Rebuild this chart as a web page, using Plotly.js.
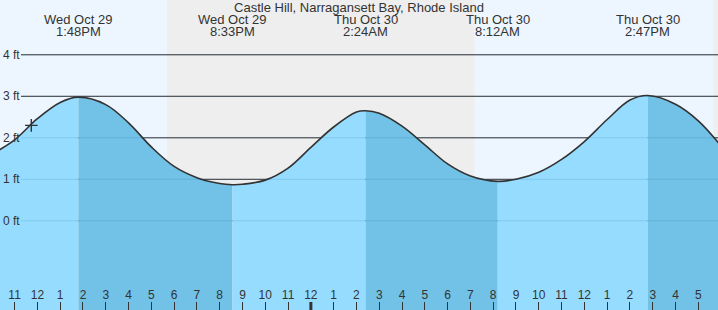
<!DOCTYPE html>
<html>
<head>
<meta charset="utf-8">
<script src="https://cdn.plot.ly/plotly-3.0.1.min.js"></script>
<style>html,body{margin:0;padding:0;background:#fff;}#chart{width:718px;height:310px;}</style>
</head>
<body>
<div id="chart"></div>
<script>
// ---- data ----
const chartTitle = 'Castle Hill, Narragansett Bay, Rhode Island';
const tideTimes = [
  '2025-10-29 10:20','2025-10-29 11:00','2025-10-29 12:00','2025-10-29 13:00','2025-10-29 13:48',
  '2025-10-29 15:00','2025-10-29 16:00','2025-10-29 17:00','2025-10-29 18:00','2025-10-29 19:00',
  '2025-10-29 20:00','2025-10-29 20:33','2025-10-29 21:00','2025-10-29 22:00','2025-10-29 23:00',
  '2025-10-30 00:00','2025-10-30 01:00','2025-10-30 02:00','2025-10-30 02:24','2025-10-30 03:00',
  '2025-10-30 04:00','2025-10-30 05:00','2025-10-30 06:00','2025-10-30 07:00','2025-10-30 08:12',
  '2025-10-30 09:00','2025-10-30 10:00','2025-10-30 11:00','2025-10-30 12:00','2025-10-30 13:00',
  '2025-10-30 14:00','2025-10-30 14:47','2025-10-30 16:00','2025-10-30 17:00','2025-10-30 17:53'
];
const tideFeet = [
  1.71, 1.95, 2.46, 2.85, 2.98,
  2.80, 2.36, 1.78, 1.31, 1.04,
  0.90, 0.87, 0.88, 0.98, 1.27,
  1.77, 2.26, 2.62, 2.65, 2.59,
  2.28, 1.83, 1.37, 1.08, 0.95,
  1.00, 1.17, 1.48, 1.91, 2.44,
  2.91, 3.02, 2.81, 2.41, 1.88
];
const extremeTimes = ['2025-10-29 13:48','2025-10-29 20:33','2025-10-30 02:24','2025-10-30 08:12','2025-10-30 14:47'];
const extremeDates = ['Wed Oct 29','Wed Oct 29','Thu Oct 30','Thu Oct 30','Thu Oct 30'];
const extremeClock = ['1:48PM','8:33PM','2:24AM','8:12AM','2:47PM'];
const nightStarts = ['2025-10-29 17:41','2025-10-30 17:40'];
const nightEnds   = ['2025-10-30 07:11','2025-10-30 19:00'];
const feetTicks = [0, 1, 2, 3, 4];
const feetLabels = ['0 ft', '1 ft', '2 ft', '3 ft', '4 ft'];
const nowTime = ['2025-10-29 11:44'];
const nowFeet = [2.30];
const midnight = '2025-10-30 00:00';

// ---- styling ----
const FONT = '"Liberation Sans", Arial, sans-serif';
const INK = '#333333';
const DAY = '#edf6ff';
const NIGHT = '#eeeeee';
const RISING = '#96dcff';
const FALLING = '#72c1e6';
const Y_RANGE = [-2.149, 5.32];
const X_RANGE = ['2025-10-29 10:21:34', '2025-10-30 17:51:50'];
const BASE = -3;

const traces = [];
// split the curve at each high/low into filled segments
const bounds = [0];
extremeTimes.forEach(t => bounds.push(tideTimes.indexOf(t)));
bounds.push(tideTimes.length - 1);
for (let k = 0; k < bounds.length - 1; k++) {
  const a = bounds[k], b = bounds[k + 1];
  const xs = tideTimes.slice(a, b + 1), ys = tideFeet.slice(a, b + 1);
  const falling = ys[ys.length - 1] < ys[0];
  traces.push({x: [xs[0], xs[xs.length - 1]], y: [BASE, BASE], mode: 'lines',
    line: {width: 0, color: 'rgba(0,0,0,0)'}, hoverinfo: 'skip', showlegend: false});
  traces.push({x: xs, y: ys, mode: 'lines', fill: 'tonexty',
    fillcolor: falling ? FALLING : RISING,
    line: {width: 0, shape: 'spline', smoothing: 1, color: 'rgba(0,0,0,0)'},
    hoverinfo: 'skip', showlegend: false});
}
// outline
traces.push({x: tideTimes, y: tideFeet, mode: 'lines',
  line: {color: INK, width: 1.6, shape: 'spline', smoothing: 1}, showlegend: false, hoverinfo: 'skip'});
// current time marker
traces.push({x: nowTime, y: nowFeet, mode: 'markers',
  marker: {symbol: 'cross-thin', size: 9, line: {width: 1.4, color: INK}, color: INK},
  showlegend: false, hoverinfo: 'skip'});

const shapes = [];
nightStarts.forEach((s, i) => shapes.push({type: 'rect', xref: 'x', yref: 'paper',
  x0: s, x1: nightEnds[i], y0: 0, y1: 1, fillcolor: NIGHT, line: {width: 0}, layer: 'below'}));
feetTicks.forEach(v => shapes.push({type: 'line', xref: 'paper', yref: 'y',
  x0: 21 / 718, x1: 1, y0: v, y1: v, line: {color: INK, width: 1}, layer: 'below'}));
feetTicks.forEach(v => shapes.push({type: 'line', xref: 'paper', yref: 'y',
  x0: 21 / 718, x1: 1, y0: v, y1: v, line: {color: 'rgba(0,70,120,0.13)', width: 1}, layer: 'above'}));
shapes.push({type: 'line', xref: 'x', yref: 'paper', x0: midnight, x1: midnight,
  y0: 0, y1: 8 / 310, line: {color: INK, width: 3}, layer: 'above'});

const annotations = [];
extremeTimes.forEach((t, i) => {
  annotations.push({x: t, xref: 'x', yref: 'paper', y: 1 - 19.5 / 310, yanchor: 'middle',
    text: extremeDates[i], showarrow: false, font: {family: FONT, size: 13, color: INK}});
  annotations.push({x: t, xref: 'x', yref: 'paper', y: 1 - 31.5 / 310, yanchor: 'middle',
    text: extremeClock[i], showarrow: false, font: {family: FONT, size: 13, color: INK}});
});
feetTicks.forEach((v, i) => annotations.push({x: 2 / 718, xref: 'paper', xanchor: 'left',
  y: v, yref: 'y', yanchor: 'middle', text: feetLabels[i], showarrow: false,
  borderpad: 0, font: {family: FONT, size: 12, color: INK}}));

const layout = {
  width: 718, height: 310,
  margin: {l: 0, r: 0, t: 0, b: 0, pad: 0},
  paper_bgcolor: DAY, plot_bgcolor: DAY,
  title: {text: chartTitle, x: 0.5, xanchor: 'center', y: 1 - 7 / 310, yanchor: 'middle',
    font: {family: FONT, size: 13, color: INK}},
  showlegend: false,
  xaxis: {type: 'date', range: X_RANGE, tick0: '2025-10-29 00:00', dtick: 3600000,
    tickformat: '%-I', ticks: 'inside', ticklen: 8, tickwidth: 1, tickcolor: INK,
    ticklabelposition: 'inside', tickfont: {family: FONT, size: 12, color: INK},
    showgrid: false, zeroline: false, showline: false, fixedrange: true},
  yaxis: {range: Y_RANGE, showticklabels: false, ticks: '',
    showgrid: false, zeroline: false, showline: false, fixedrange: true},
  shapes: shapes,
  annotations: annotations,
  font: {family: FONT, color: INK}
};

Plotly.newPlot('chart', traces, layout, {displayModeBar: false, staticPlot: true});
</script>
</body>
</html>
